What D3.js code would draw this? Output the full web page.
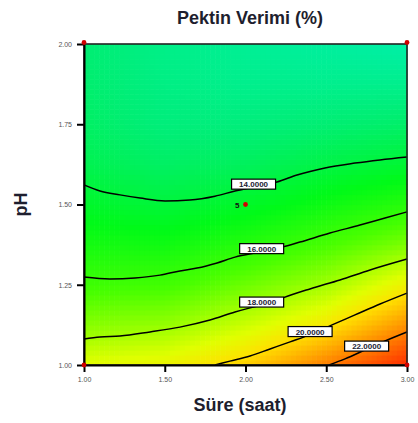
<!DOCTYPE html>
<html><head><meta charset="utf-8">
<script src="https://cdn.jsdelivr.net/npm/d3@7"></script>
<style>html,body{margin:0;padding:0;background:#fff;} svg{display:block;}</style>
</head><body>
<script>
const title = "Pektin Verimi (%)";
const xLabel = "Süre (saat)";
const yLabel = "pH";
const xTicks = [1.00, 1.50, 2.00, 2.50, 3.00];
const yTicks = [1.00, 1.25, 1.50, 1.75, 2.00];

// Predicted yield on a coarse grid (rows: gridPH, columns: gridTime)
const gridTime = [1.0, 1.5, 2.0, 2.5, 3.0];
const gridPH = [1.0, 1.125, 1.25, 1.375, 1.5, 1.625, 1.75, 1.875, 2.0];
const gridYield = [
  [19.10, 19.40, 20.35, 22.05, 23.75],
  [17.54, 17.78, 18.66, 19.81, 21.64],
  [16.25, 16.34, 17.10, 17.99, 19.51],
  [15.30, 15.18, 15.69, 16.47, 17.39],
  [14.43, 14.10, 14.46, 15.14, 15.73],
  [13.68, 13.30, 13.45, 13.90, 14.27],
  [13.30, 12.80, 12.80, 13.00, 13.20],
  [13.10, 12.60, 12.40, 12.40, 12.40],
  [13.00, 12.50, 12.20, 12.00, 11.80]
];

// Contour levels and their traced isolines as [time, pH] pairs
const levels = [14, 16, 18, 20, 22];
const contour14 = [[1.000,1.561],[1.099,1.542],[1.223,1.530],[1.347,1.520],[1.502,1.511],[1.656,1.514],[1.811,1.526],[1.935,1.542],[2.059,1.555],[2.195,1.570],[2.319,1.592],[2.492,1.614],[2.678,1.629],[2.833,1.639],[3.000,1.648]];
const contour16 = [[1.000,1.274],[1.161,1.268],[1.316,1.271],[1.471,1.280],[1.594,1.293],[1.700,1.302],[1.824,1.318],[1.935,1.336],[2.090,1.352],[2.232,1.368],[2.337,1.383],[2.523,1.411],[2.709,1.436],[2.864,1.458],[3.000,1.477]];
const contour18 = [[1.000,1.081],[1.099,1.087],[1.223,1.090],[1.409,1.103],[1.594,1.118],[1.780,1.140],[1.935,1.165],[2.028,1.178],[2.152,1.193],[2.232,1.209],[2.399,1.237],[2.585,1.265],[2.771,1.296],[3.000,1.330]];
const contour20 = [[1.811,1.000],[1.904,1.012],[2.028,1.028],[2.152,1.050],[2.276,1.072],[2.412,1.097],[2.536,1.125],[2.678,1.156],[2.833,1.190],[3.000,1.224]];
const contour22 = [[2.517,1.000],[2.616,1.019],[2.752,1.050],[2.864,1.075],[3.000,1.103]];
const contourLines = [contour14, contour16, contour18, contour20, contour22];
const labelTime = [2.05, 2.10, 2.10, 2.40, 2.75];

// Design points (time, pH, replicate count)
const designTime = [1, 3, 1, 3, 2];
const designPH = [2, 2, 1, 1, 1.5];
const designReps = [1, 1, 1, 1, 5];

const W = 418, H = 423;
const plot = {left: 84, right: 407, top: 44, bottom: 365};
const font = "'Liberation Sans', Arial, sans-serif";

const svg = d3.select("body").append("svg").attr("width", W).attr("height", H);

const x = d3.scaleLinear().domain([1, 3]).range([plot.left, plot.right]);
const y = d3.scaleLinear().domain([1, 2]).range([plot.bottom, plot.top]);

const color = d3.scaleLinear()
  .domain([11.5, 13.0, 14.8, 16.5, 19.0, 20.0, 21.0, 22.0, 23.0, 24.0])
  .range(["#00f0b4", "#00ee72", "#00fa18", "#48ff00", "#e0ff00", "#ffe000", "#ffb000", "#ff8000", "#ff5000", "#ff2000"])
  .clamp(true);

// Bilinear lookup on the yield grid
function yieldAt(t, p) {
  const ci = Math.min(gridTime.length - 2, Math.max(0, d3.bisectRight(gridTime, t) - 1));
  const ri = Math.min(gridPH.length - 2, Math.max(0, d3.bisectRight(gridPH, p) - 1));
  const ft = (t - gridTime[ci]) / (gridTime[ci + 1] - gridTime[ci]);
  const fp = (p - gridPH[ri]) / (gridPH[ri + 1] - gridPH[ri]);
  const a = gridYield[ri][ci], b = gridYield[ri][ci + 1];
  const c = gridYield[ri + 1][ci], d = gridYield[ri + 1][ci + 1];
  return (a * (1 - ft) + b * ft) * (1 - fp) + (c * (1 - ft) + d * ft) * fp;
}

// Filled colour field as small cells
const nx = 64, ny = 64;
const cells = [];
for (let j = 0; j < ny; j++) {
  for (let i = 0; i < nx; i++) {
    const t0 = 1 + 2 * i / nx, t1 = 1 + 2 * (i + 1) / nx;
    const p0 = 1 + j / ny, p1 = 1 + (j + 1) / ny;
    cells.push({t0, t1, p0, p1, v: yieldAt((t0 + t1) / 2, (p0 + p1) / 2)});
  }
}
svg.append("g").selectAll("rect").data(cells).join("rect")
  .attr("x", d => x(d.t0))
  .attr("y", d => y(d.p1))
  .attr("width", d => x(d.t1) - x(d.t0) + 0.6)
  .attr("height", d => y(d.p0) - y(d.p1) + 0.6)
  .attr("fill", d => color(d.v));

// Contour lines
const line = d3.line().x(d => x(d[0])).y(d => y(d[1])).curve(d3.curveMonotoneX);
svg.append("g").selectAll("path").data(contourLines).join("path")
  .attr("d", line)
  .attr("fill", "none")
  .attr("stroke", "#000")
  .attr("stroke-width", 1.5);

// Plot frame
svg.append("rect")
  .attr("x", plot.left).attr("y", plot.top)
  .attr("width", plot.right - plot.left).attr("height", plot.bottom - plot.top)
  .attr("fill", "none").attr("stroke", "#222").attr("stroke-width", 1.6);

// Contour labels
function pHOnLine(pts, t) {
  const i = Math.min(pts.length - 2, Math.max(0, d3.bisector(d => d[0]).right(pts, t) - 1));
  const f = (t - pts[i][0]) / (pts[i + 1][0] - pts[i][0]);
  return pts[i][1] + f * (pts[i + 1][1] - pts[i][1]);
}
const fmt = d3.format(".4f");
const labels = svg.append("g").selectAll("g").data(levels).join("g")
  .attr("transform", (d, i) => `translate(${x(labelTime[i])},${y(pHOnLine(contourLines[i], labelTime[i])) - 3})`);
labels.append("rect")
  .attr("x", -22).attr("y", -5).attr("width", 44).attr("height", 10)
  .attr("fill", "#fff").attr("stroke", "#000").attr("stroke-width", 1.2);
labels.append("text")
  .attr("text-anchor", "middle").attr("y", 3)
  .attr("font-family", font).attr("font-size", 8).attr("font-weight", "bold")
  .attr("fill", "#223").text(d => fmt(d));

// Axes
const xAxis = d3.axisBottom(x).tickValues(xTicks).tickFormat(d3.format(".2f")).tickSize(7).tickSizeOuter(0);
const yAxis = d3.axisLeft(y).tickValues(yTicks).tickFormat(d3.format(".2f")).tickSize(7).tickSizeOuter(0);
const gx = svg.append("g").attr("transform", `translate(0,${plot.bottom})`).call(xAxis);
const gy = svg.append("g").attr("transform", `translate(${plot.left},0)`).call(yAxis);
[gx, gy].forEach(g => {
  g.select(".domain").attr("stroke", "#000").attr("stroke-width", 2);
  g.selectAll(".tick line").attr("stroke", "#000").attr("stroke-width", 2);
  g.selectAll(".tick text").attr("font-family", font).attr("font-size", 7).attr("fill", "#555");
});
gx.selectAll(".tick text").attr("dy", "1.1em").attr("y", 9);
gy.selectAll(".tick text").attr("x", -12).attr("dy", "0.35em");

// Design points
svg.append("g").selectAll("circle").data(designTime).join("circle")
  .attr("cx", (d, i) => x(d)).attr("cy", (d, i) => y(designPH[i]) - (designPH[i] === 2 ? 1.5 : 0))
  .attr("r", 2.4).attr("fill", "#d00000");
svg.append("g").selectAll("text").data(designReps.filter(r => r > 1)).join("text")
  .attr("x", () => x(designTime[4]) - 6).attr("y", () => y(designPH[4]) + 3)
  .attr("text-anchor", "end")
  .attr("font-family", font).attr("font-size", 8).attr("font-weight", "bold").attr("fill", "#111")
  .text(d => d);

// Titles
svg.append("text").attr("x", 250).attr("y", 24).attr("text-anchor", "middle")
  .attr("font-family", font).attr("font-size", 18).attr("font-weight", "bold").attr("fill", "#1e1e2e")
  .text(title);
svg.append("text").attr("x", 240).attr("y", 411).attr("text-anchor", "middle")
  .attr("font-family", font).attr("font-size", 18).attr("font-weight", "bold").attr("fill", "#1e1e2e")
  .text(xLabel);
svg.append("text").attr("transform", `translate(27,${(plot.top + plot.bottom) / 2}) rotate(-90)`)
  .attr("text-anchor", "middle")
  .attr("font-family", font).attr("font-size", 18).attr("font-weight", "bold").attr("fill", "#1e1e2e")
  .text(yLabel);
</script>
</body></html>
